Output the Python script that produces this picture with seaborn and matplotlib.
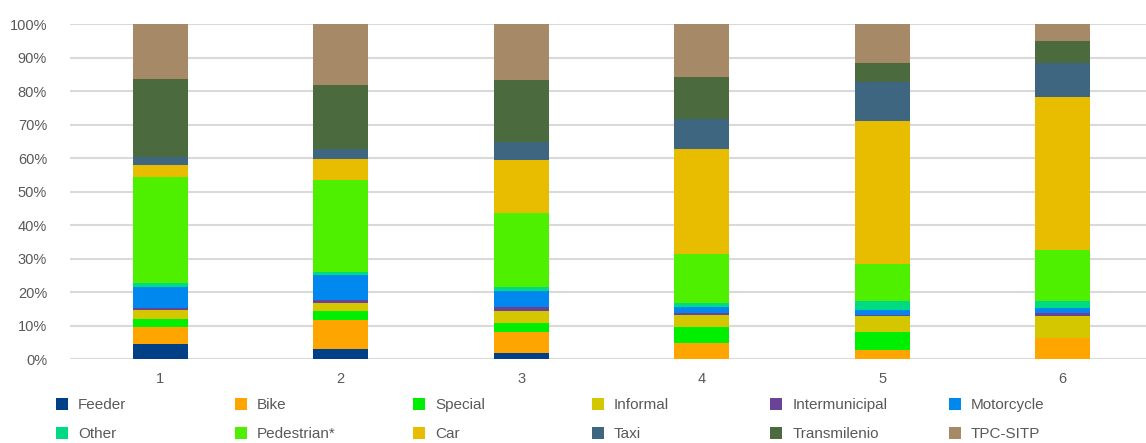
import numpy as np
import pandas as pd
import matplotlib
matplotlib.use("Agg")
import matplotlib.pyplot as plt
from matplotlib.patches import Patch
import seaborn as sns

zones = [1, 2, 3, 4, 5, 6]
modes = ["Feeder", "Bike", "Special", "Informal", "Intermunicipal", "Motorcycle",
         "Other", "Pedestrian*", "Car", "Taxi", "Transmilenio", "TPC-SITP"]

feeder         = [4.6, 3.2, 2.0, 0.0, 0.0, 0.0]
bike           = [5.1, 8.7, 6.3, 4.9, 2.9, 6.5]
special        = [2.4, 2.7, 2.6, 4.8, 5.4, 0.0]
informal       = [2.7, 2.3, 3.6, 3.6, 4.8, 6.5]
intermunicipal = [0.6, 0.9, 1.0, 0.6, 0.3, 0.9]
motorcycle     = [6.2, 7.4, 4.9, 1.8, 1.4, 1.5]
other          = [1.2, 0.9, 1.2, 1.2, 2.5, 1.9]
pedestrian     = [31.7, 27.5, 22.0, 14.4, 11.3, 15.3]
car            = [3.6, 6.2, 15.8, 31.4, 42.4, 45.6]
taxi           = [2.3, 3.0, 5.5, 8.9, 11.8, 10.2]
transmilenio   = [23.3, 19.1, 18.4, 12.6, 5.6, 6.5]
tpc_sitp       = [16.3, 18.1, 16.7, 15.8, 11.6, 5.1]

colors = ["#004087", "#FFA500", "#00EE00", "#D4C700", "#6A4296", "#0088EE",
          "#00DA85", "#4EF000", "#E8BD00", "#3F6680", "#4B6A3D", "#A68A68"]

series = [feeder, bike, special, informal, intermunicipal, motorcycle,
          other, pedestrian, car, taxi, transmilenio, tpc_sitp]
rows = []
for m, vals in zip(modes, series):
    for z, v in zip(zones, vals):
        rows.append({"zone": z, "mode": m, "share": v / 100.0})
df = pd.DataFrame(rows)

sns.set_theme(style="white")
plt.rcParams["font.family"] = ["Liberation Sans", "DejaVu Sans"]
txt = "#595959"

fig = plt.figure(figsize=(11.46, 4.43), dpi=100)
ax = fig.add_axes([70 / 1146, 0.1885, 1083 / 1146, 0.7573])

palette = dict(zip(modes, colors))
sns.histplot(data=df, x="zone", weights="share", hue="mode",
             hue_order=modes[::-1], palette=palette, multiple="stack",
             discrete=True, shrink=0.305, alpha=1, linewidth=0,
             edgecolor="none", legend=False, ax=ax)

ax.set_xlim(0.5, 6.5)
ax.set_ylim(0, 1.0)
ax.set_yticks(np.arange(0, 1.01, 0.1))
ax.set_yticklabels([f"{int(round(v * 100))}%" for v in np.arange(0, 1.01, 0.1)])
ax.set_xticks(zones)
ax.set_xticklabels([str(z) for z in zones])
ax.set_xlabel("")
ax.set_ylabel("")
ax.yaxis.grid(True, color="#D9D9D9", linewidth=1.5)
ax.set_axisbelow(True)
for s in ax.spines.values():
    s.set_visible(False)
ax.tick_params(axis="y", length=0, pad=16.5, labelsize=10.5, labelcolor=txt)
ax.tick_params(axis="x", length=0, pad=9, labelsize=10.5, labelcolor=txt)

# legend: 6 uniform columns, 2 rows
col_x = [56, 234.5, 413, 591.5, 770, 948.5]
for i, x in enumerate(col_x):
    idx = [i, i + 6]
    handles = [Patch(facecolor=colors[j], edgecolor="none") for j in idx]
    labels = [modes[j] for j in idx]
    fig.legend(handles, labels, loc="upper left",
               bbox_to_anchor=(x / 1146, (443 - 398) / 443),
               frameon=False, borderpad=0, borderaxespad=0,
               handlelength=0.8, handleheight=0.8, handletextpad=0.65,
               labelspacing=0.98, fontsize=11, labelcolor=txt)

fig.savefig("out.png", dpi=100)
